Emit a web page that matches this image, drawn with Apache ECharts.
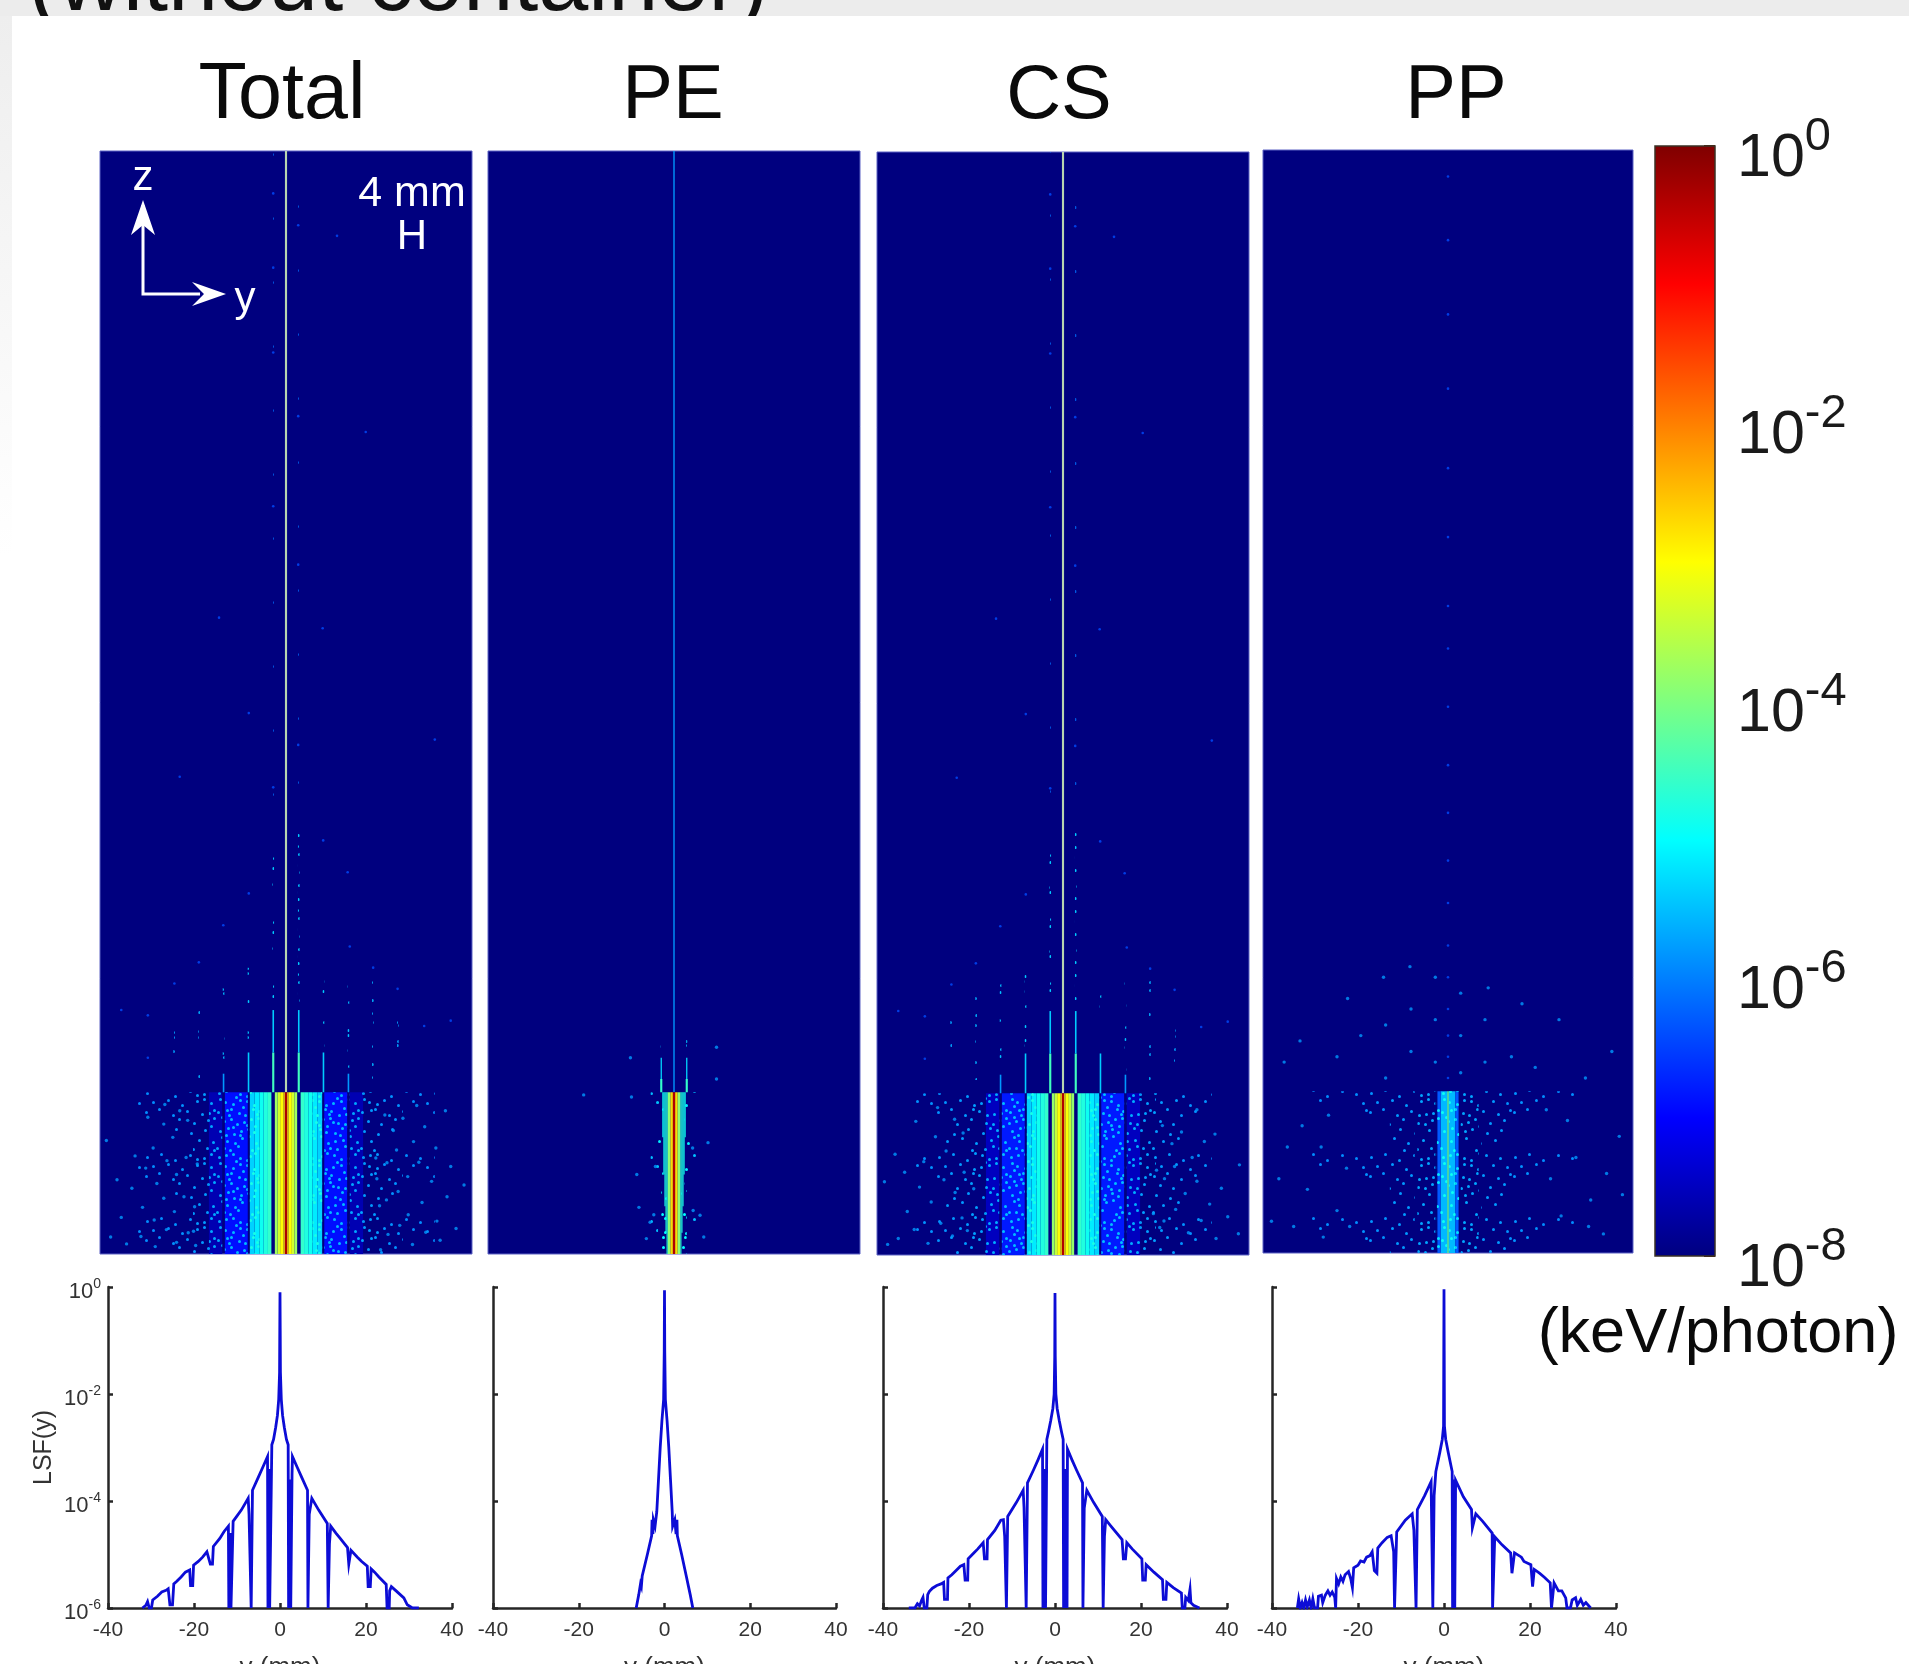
<!DOCTYPE html>
<html><head><meta charset="utf-8">
<style>html,body{margin:0;padding:0;background:#fff}#c{width:1909px;height:1664px}</style>
<script src="https://cdn.jsdelivr.net/npm/echarts@6/dist/echarts.min.js"></script>
</head><body><div id="c"></div>
<script>
const panelTitles = ['Total','PE','CS','PP'];
const jet = ['#00007f','#0000ff','#007fff','#00ffff','#7fff7f','#ffff00','#ff7f00','#ff0000','#7f0000'];
const colorbarExponents = [-8,0];

// Solid bands: [|y| from, |y| to, z from, z to, log10 value] in mm; mirrored about y = 0. null = pale core line.
const totalBands = [
 [0,0.2,30.5,208,null],[0,0.22,0,30.5,-0.35],[0.22,0.5,0,30.5,-2.6],[0.5,1.1,0,30.5,-3.0],[1.1,1.6,0,30.5,-3.35],[1.6,2.1,0,30.5,-3.75],
 [2.75,3.4,0,30.5,-4.6],[3.4,4.2,0,30.5,-4.75],[4.2,5,0,30.5,-4.9],[5,5.9,0,30.5,-5.15],[5.9,6.8,0,30.5,-5.35],
 [7.2,11.5,0,30.5,-6.9],[12,14.5,0,30.5,-7.6],
 [2.2,2.6,30.5,38,-4.5],[2.25,2.55,38,46,-5.4],
 [6.9,7.2,30.5,38,-5.4],[11.6,11.9,30.5,34,-5.8]
];
const peBands = [
 [0,0.13,30.5,208,-5.8],[0,0.22,0,30.5,-0.4],[0.22,0.7,0,30.5,-2.7],[0.7,1.2,0,30.5,-3.9],
 [1.2,1.4,0,30.5,-4.7],[1.4,1.6,4,30.5,-4.75],[1.6,1.8,9,30.5,-4.8],[1.8,2,15,30.5,-4.85],[2,2.2,22,30.5,-4.9],
 [2.2,2.6,30.5,33,-4.6],[2.28,2.52,33,37,-5.3]
];
const csBands = [
 [0,0.2,30.5,208,null],[0,0.22,0,30.5,-0.4],[0.22,0.5,0,30.5,-2.7],[0.5,1.1,0,30.5,-3.05],[1.1,1.6,0,30.5,-3.45],[1.6,2.1,0,30.5,-3.85],
 [2.75,3.4,0,30.5,-4.6],[3.4,4.2,0,30.5,-4.75],[4.2,5,0,30.5,-4.9],[5,5.9,0,30.5,-5.15],[5.9,6.8,0,30.5,-5.35],
 [7.2,11.5,0,30.5,-6.8],[12,14.5,0,30.5,-7.5],
 [2.2,2.6,30.5,38,-4.5],[2.25,2.55,38,46,-5.4],
 [6.9,7.2,30.5,38,-5.4],[11.6,11.9,30.5,34,-5.8]
];
const ppBands = [
 [0,0.16,0,30.5,-4.2],[0.16,1.4,0,30.5,-5.55],[1.4,2,0,30.5,-6.3]
];

// Speckled zones: [|y| from, |y| to, z from, z to, log10 value of the grains, grains per tile]
const totalGrain = [
 [5,6.8,0,30.5,-4.8,90],[7.2,11.5,0,30.5,-5.55,90],[12,14.5,0,30.5,-5.7,72],[14.5,17.5,0,30.5,-5.8,48],[17.5,22,0,30.5,-5.85,26],[22,28,0,30.5,-5.9,12],
 [2.25,2.55,46,80,-5.4,70],[6.9,7.2,38,54,-5.4,60],[11.6,11.9,34,52,-5.5,60],[16.2,16.5,33,52,-5.6,60],[20.9,21.2,35,48,-5.7,50],[2.3,2.5,80,208,-6.1,22]
];
const peGrain = [
 [1.4,2.4,0,12,-5,60],[2,3,10,30.5,-5.1,30],[3,4.4,0,30.5,-5.5,10],[2.3,2.5,37,42,-5.4,60]
];
const csGrain = [
 [5,6.8,0,30.5,-4.8,90],[7.2,11.5,0,30.5,-5.5,90],[12,14.5,0,30.5,-5.65,76],[14.5,17.5,0,30.5,-5.75,54],[17.5,22,0,30.5,-5.8,30],[22,28,0,30.5,-5.85,14],
 [2.25,2.55,46,80,-5.4,70],[6.9,7.2,38,54,-5.4,60],[11.6,11.9,34,52,-5.5,60],[16.2,16.5,33,52,-5.6,60],[20.9,21.2,35,48,-5.7,50],[2.3,2.5,80,208,-6.1,22]
];
const ppGrain = [
 [0.16,1.4,0,30.5,-4.9,60],[1.4,2.1,0,30.5,-5.2,60],[2.4,5.8,0,30.5,-5.7,60],[6.3,11,0,30.5,-5.8,34],[11,17,0,30.5,-5.85,16],[17,26,0,30.5,-5.9,7]
];
// One tile of grain positions (x, y in tile cells) read from the speckled zones.
const grainTile = [[3,5],[17,2],[31,8],[46,3],[60,6],[9,14],[24,12],[38,17],[53,13],[67,15],[2,24],[15,21],[29,27],[43,23],[58,26],[70,22],[8,33],[21,36],[35,31],[50,35],[64,32],[4,43],[18,46],[32,41],[47,45],[61,42],[11,53],[26,50],[40,55],[55,52],[69,54],[1,60],[14,62],[36,62],[49,61],[63,60],
[10,3],[24,6],[39,1],[53,7],[67,2],[4,11],[17,16],[31,13],[45,15],[60,11],[11,22],[23,25],[37,21],[51,27],[65,25],[6,29],[15,31],[28,34],[42,30],[57,36],[70,30],[12,40],[25,43],[39,38],[54,40],[67,38],[6,49],[19,55],[33,48],[47,53],[62,48],[8,60],[22,58],[42,60],[57,58],[70,62],
[6,18],[20,9],[34,4],[49,10],[63,19],[13,27],[27,19],[41,26],[56,20],[1,35],[17,39],[31,37],[45,34],[60,38],[10,47],[24,47],[38,44],[52,47],[66,45],[3,55],[16,58],[30,55],[44,50],[59,55]];

// Isolated grains as [y, z] in mm.
const totalSpeckle = [
[-16.7,17],[-17.2,8.9],[-17.4,4.3],[-17,1.6],[16.9,18.1],[17.1,14.2],[17.6,9.1],[17.8,.8],
[-18.5,25.2],[-20,27],[-21.3,22],[-23,24.5],[-25,20],[-18.8,18.2],[-20.6,15],[-22.4,17.6],[-24.3,13.3],[-26.4,16.2],[-19.2,10.8],[-21,8],[-23,10.5],[-24.8,6.4],[-27,8.8],[-29,12.4],[-31,6.9],[-18.4,4],[-20.6,2.2],[-22.5,4.6],[-24.6,1.4],[-27.3,3.3],[-30,1.9],[-33,3.2],[-33.8,21.4],[-28.4,18.5],[-26,25.8],[-31.8,14],[-22.8,28.2],
[18.6,26.2],[20.2,23.3],[22,25.6],[24,21.2],[26.1,24],[19,17.2],[20.8,19.6],[22.9,14.6],[25,17.3],[27.4,13.7],[18.9,10.2],[21.1,11.8],[23,7.4],[25.6,9.7],[28.4,6.2],[30.3,10.8],[19.2,3.7],[21.4,5.4],[23.8,1.8],[26.3,4.1],[29,2.6],[32,4.8],[33.5,13],[28.2,20],[31,16.5],[24.6,28],[30,27]
];
const peSpeckle = [
[-3.5,16.5],[-3.8,7.4],[-4.5,6],[-5.2,2.9],[3.5,20],[3.6,8.2],[4.9,7.3],[5.6,3.2],
[-6.6,8.8],[-8,29.6],[8,33],[8,39],[-8.2,37],[-17,30],[6.4,21],[-7,15]
];
const csSpeckle = [
[-16.8,12.5],[-18,4.6],[17.6,16],[17,7.8],[18.2,5.2],
[-18.8,23],[-20.4,25.6],[-22,19.6],[-24,22.3],[-26.2,17.6],[-18.6,15.6],[-20.3,11.8],[-22.4,14.2],[-24.8,10],[-27,12.8],[-29.3,8.2],[-19,7],[-20.8,3.6],[-23,6],[-25.4,2.2],[-28,4.8],[-31,3.1],[-33,2],[-33.6,13.8],[-31.6,19],[-27.7,25.2],[-29.8,15.6],[-23.6,27.8],
[18.7,24.4],[20.5,21],[22.3,23.2],[24.3,18.4],[26.6,21.4],[19.1,14.4],[21,16.7],[23,11.6],[25.2,13.9],[27.6,9.6],[19,6.4],[21.2,8.6],[23.6,4.2],[26,6.5],[28.8,3.1],[31,7.2],[33,4],[33.2,17],[29.8,12.6],[28.6,22.8],[25.2,27.4]
];
const ppSpeckle = [
[-19.2,16],[-21,8],[-24,20],[-26.6,12],[-29.2,5],[-32,14],[-18.6,5],[-22.6,26],[-27.6,24],[-30.4,20],[-23.6,3],[-33.4,6],
[19.4,14],[21.4,7],[24.2,18],[27,10],[29.4,3.6],[32.4,22],[33,11],[18.6,27],[22.6,25],[26.6,5],[30,15],
[-2.4,36],[-2.4,44],[-2.4,52],[2.4,34],[2.4,41],[2.4,49],[-7,38],[-7,46],[7,36],[7,44],[-11.8,33],[-11.8,43],[12,37],[16.5,35],[-16.5,41],[-21,37],[21,44],[-28,40],[26,33],[-12.2,52],[-7.2,54],[7.6,50],[14,47],[-19,48],[-31,36],[31,38]
];
const sparseDots = [[-2.4,200],[-2.4,186],[2.3,194],[-2.4,170],[2.3,158],[-2.4,141],[2.3,130],[6.9,118],[-7,102],[2.3,96],[-2.4,88],[7,78],[-7,68],[-11.8,62],[12,58],[11.6,72],[-16.4,55],[16.4,54],[-21,51],[21,50],[-26,45],[26,43],[-26,37],[31,44],[-31,46],[9.6,192],[15,155],[-12.6,120],[28,97],[-20,90]];
const ppColumnDots = [[0,33],[0,37],[0,41],[0,46],[0,52],[0,58],[0,66],[0,74],[0,83],[0,92],[0,103],[0,114],[0,122],[0,135],[0,148],[0,163],[0,177],[0,191],[0,203]];

// LSF curves: [y (mm), exponent of LSF].
const lsfTotal = [[-32,-6],[-31.2,-5.95],[-30.8,-5.88],[-30.4,-6],[-29.9,-6],[-29.6,-5.85],[-29.2,-5.83],[-28.5,-5.78],[-27.5,-5.7],[-26.5,-5.67],[-26,-5.64],[-25.6,-5.94],[-25,-5.94],[-24.7,-5.55],[-24,-5.5],[-23,-5.42],[-22,-5.33],[-21,-5.29],[-20.8,-5.58],[-20.3,-5.58],[-20.1,-5.2],[-19,-5.13],[-18,-5.05],[-17,-4.95],[-16.6,-4.92],[-16.2,-5.18],[-15.7,-5.18],[-15.5,-4.85],[-14,-4.7],[-13,-4.57],[-12,-4.47],[-11.9,-6],[-11.6,-4.6],[-11.4,-6],[-11,-6],[-10.9,-4.38],[-9,-4.17],[-7.4,-3.95],[-7.2,-4.25],[-6.8,-4.25],[-6.7,-6],[-6.5,-6],[-6.4,-3.8],[-5,-3.55],[-4,-3.37],[-2.9,-3.17],[-2.8,-6],[-2.6,-3.4],[-2.4,-6],[-2,-6],[-1.9,-2.95],[-1.5,-2.85],[-1,-2.62],[-0.6,-2.4],[-0.3,-2.1],[-0.1,-1.6],[-0.05,-0.8],[0,-0.1],[0.05,-0.8],[0.1,-1.6],[0.3,-2.1],[0.6,-2.4],[1,-2.62],[1.5,-2.85],[1.9,-2.95],[2,-6],[2.3,-3.6],[2.5,-6],[2.8,-3.5],[2.9,-3.17],[4,-3.37],[5,-3.55],[6.4,-3.8],[6.5,-6],[6.7,-6],[6.8,-4.25],[7.1,-4.25],[7.4,-3.95],[9,-4.17],[11,-4.42],[11.2,-6],[11.4,-6],[11.5,-4.8],[11.8,-4.47],[13,-4.6],[14,-4.7],[15.7,-4.87],[16,-5.18],[16.3,-5.18],[16.5,-4.92],[18,-5.05],[19,-5.13],[20.3,-5.22],[20.5,-5.6],[21,-5.6],[21.2,-5.27],[22,-5.33],[23,-5.42],[24.7,-5.56],[24.9,-6],[25.4,-6],[25.5,-5.68],[25.9,-5.6],[27,-5.68],[28.8,-5.81],[29.6,-5.94],[30.8,-6],[32.3,-6]];
const lsfPE = [[-6.6,-6],[-6,-5.75],[-5.6,-5.55],[-5.4,-5.6],[-5.2,-5.4],[-4,-5.0],[-3,-4.65],[-2.9,-4.35],[-2.7,-4.62],[-2.6,-4.35],[-2.4,-4.35],[-2.2,-4.47],[-1.9,-4.47],[-1.8,-4.2],[-1.4,-3.6],[-1,-3.0],[-0.6,-2.5],[-0.2,-2.1],[-0.06,-1.2],[0,-0.06],[0.06,-1.2],[0.2,-2.1],[0.6,-2.5],[1,-3.0],[1.4,-3.6],[1.8,-4.2],[1.9,-4.47],[2.2,-4.47],[2.4,-4.35],[2.6,-4.35],[2.7,-4.62],[2.9,-4.35],[3,-4.65],[4,-5.0],[5.2,-5.45],[5.6,-5.6],[6,-5.75],[6.6,-6]];
const lsfCS = [[-34,-6],[-32.6,-6],[-32,-5.92],[-31.5,-5.96],[-31,-5.85],[-30.7,-5.8],[-30.4,-6],[-29.8,-6],[-29.6,-5.75],[-29.2,-5.69],[-28.5,-5.63],[-27.5,-5.58],[-26.5,-5.55],[-25.9,-5.52],[-25.7,-5.84],[-25,-5.84],[-24.9,-5.44],[-24,-5.38],[-23,-5.3],[-22,-5.22],[-21.2,-5.19],[-20.9,-5.48],[-20.3,-5.48],[-20.2,-5.08],[-19,-4.98],[-18,-4.9],[-16.7,-4.78],[-16.4,-5.08],[-15.8,-5.08],[-15.7,-4.72],[-14,-4.55],[-12.6,-4.36],[-12,-4.35],[-11.7,-4.66],[-11.4,-4.66],[-11.3,-6],[-11.1,-6],[-11,-4.29],[-9,-4.03],[-7.4,-3.8],[-7.2,-4.13],[-6.8,-4.13],[-6.7,-6],[-6.5,-6],[-6.4,-3.66],[-5,-3.42],[-4,-3.24],[-2.9,-3.03],[-2.8,-6],[-2.6,-3.4],[-2.5,-6],[-2.3,-3.4],[-2.2,-6],[-2,-6],[-1.9,-2.85],[-1.5,-2.7],[-1,-2.5],[-0.5,-2.27],[-0.2,-2.0],[-0.06,-1.3],[0,-0.11],[0.06,-1.3],[0.2,-2.0],[0.5,-2.27],[1,-2.5],[1.5,-2.7],[1.9,-2.85],[2,-6],[2.2,-3.4],[2.4,-6],[2.6,-3.4],[2.8,-6],[2.9,-3.03],[4,-3.24],[5,-3.42],[6.4,-3.66],[6.5,-6],[6.7,-6],[6.8,-4.13],[7.1,-4.13],[7.4,-3.8],[9,-4.03],[11,-4.29],[11.2,-6],[11.4,-6],[11.5,-4.66],[11.8,-4.35],[13,-4.47],[15.6,-4.72],[15.9,-5.08],[16.4,-5.08],[16.7,-4.78],[18,-4.9],[20.2,-5.08],[20.4,-5.48],[21,-5.48],[21.2,-5.19],[23,-5.33],[25,-5.47],[25.2,-5.84],[25.8,-5.84],[26,-5.52],[27.5,-5.62],[29.4,-5.72],[29.6,-6],[30.2,-6],[30.4,-5.8],[31,-5.86],[31.4,-5.65],[31.6,-5.9],[32.2,-5.95],[33.6,-6]];
const lsfPP = [[-34.1,-6],[-33.8,-5.83],[-33.4,-6],[-33,-5.9],[-32.6,-6],[-32.2,-5.85],[-31.8,-5.98],[-31.3,-5.85],[-30.9,-6],[-30.5,-5.83],[-30.1,-6],[-29.4,-6],[-29.2,-5.78],[-28.5,-5.76],[-28.2,-5.9],[-27.6,-5.76],[-27,-5.68],[-26.5,-5.76],[-26,-5.7],[-25.4,-5.8],[-25.2,-6],[-25,-5.45],[-24.5,-5.55],[-24,-5.42],[-23.5,-5.5],[-23,-5.38],[-22.2,-5.32],[-21.7,-5.45],[-21.3,-5.62],[-21,-5.25],[-20,-5.2],[-19.4,-5.12],[-18.6,-5.14],[-18,-5.05],[-17.2,-5.02],[-16.7,-4.95],[-16.2,-5.3],[-15.6,-5.35],[-15.4,-4.88],[-14.4,-4.78],[-13.2,-4.68],[-12.3,-4.65],[-12,-4.62],[-11.7,-4.95],[-11.5,-6],[-11.1,-6],[-11,-4.58],[-9,-4.36],[-7.4,-4.24],[-7,-4.55],[-6.6,-4.55],[-6.5,-6],[-6.3,-6],[-6.2,-4.16],[-4.5,-3.9],[-3,-3.64],[-2.7,-3.61],[-2.6,-6],[-2.4,-6],[-2.3,-3.9],[-1.9,-3.9],[-1.9,-3.45],[-1,-3.1],[-0.4,-2.85],[-0.1,-2.6],[-0.05,-1.2],[0,-0.04],[0.05,-1.2],[0.1,-2.6],[0.4,-2.85],[1,-3.1],[1.9,-3.45],[2,-6],[2.3,-3.6],[2.5,-6],[2.7,-3.61],[4.5,-3.92],[6.4,-4.16],[6.6,-4.5],[7,-4.5],[7.4,-4.24],[9,-4.38],[11.2,-4.6],[11.3,-6],[11.6,-6],[11.7,-4.94],[11.8,-4.67],[13.5,-4.82],[15.5,-4.97],[15.8,-5.35],[16.2,-5.35],[16.4,-4.97],[18,-5.05],[18.6,-5.13],[20.2,-5.19],[20.6,-5.6],[21,-5.28],[22.2,-5.35],[23.4,-5.43],[24.7,-5.53],[25,-6],[25.4,-6],[25.6,-5.53],[26.6,-5.68],[27.4,-5.68],[28.3,-5.81],[28.6,-6],[29.4,-6],[29.8,-5.85],[30.6,-5.81],[31,-5.95],[31.8,-5.84],[32.4,-5.95],[33,-5.9],[34.1,-6]];

// ------------------ layout ------------------
const font = 'Liberation Sans';
const heatBoxes = [[100,151,372,1103],[488,151,372,1103],[877,152,372,1103],[1263,150,370,1103]];
const lsfBoxes = [[108,1287,344,321],[493,1287,343,321],[883,1287,344,321],[1272,1287,344,321]];
const titleCentres = [282,673,1059,1456];
const titleSizes = [79,76,76,76];
const coreColor = '#b8d4b0';
const allBands = [totalBands,peBands,csBands,ppBands];
const allGrain = [totalGrain,peGrain,csGrain,ppGrain];
const allSpeckle = [totalSpeckle,peSpeckle,csSpeckle,ppSpeckle];
const allSparse = [sparseDots,[],sparseDots,ppColumnDots];
const allLsf = [lsfTotal,lsfPE,lsfCS,lsfPP];
const speckleLevel = -5.8, sparseLevel = -6.4;

function jetAt(e){ return echarts.color.lerp(Math.max(0,Math.min(1,(e+8)/8)), jet); }
const tileCache={};
function grainPattern(e,n){
  const key=e+'/'+n;
  if(!tileCache[key]){
    const cv=document.createElement('canvas');cv.width=72;cv.height=64;
    const c=cv.getContext('2d');c.fillStyle=jetAt(e);
    grainTile.slice(0,n).forEach(d=>{c.beginPath();c.arc(d[0]+.5,d[1]+.5,1.5,0,Math.PI*2);c.fill();});
    tileCache[key]={image:cv,repeat:'repeat'};
  }
  return tileCache[key];
}
const mirror=rows=>{const out=[];rows.forEach(r=>{
  if(r[0]===0){out.push([-r[1],...r.slice(1)]);}
  else{out.push(r);out.push([-r[1],-r[0],...r.slice(2)]);}
});return out;};

const grid=[],xAxis=[],yAxis=[],series=[];
function addBox(b,extra){grid.push(Object.assign({left:b[0],top:b[1],width:b[2],height:b[3],outerBoundsMode:'none'},extra));return grid.length-1;}

panelTitles.forEach((t,p)=>{
  const g=addBox(heatBoxes[p],{show:true,backgroundColor:'#00007f',borderColor:'#5c62c4',borderWidth:1});
  xAxis.push({gridIndex:g,type:'value',min:-35,max:35,show:false});
  yAxis.push({gridIndex:g,type:'value',min:0,max:208,show:false});
  const bands=mirror(allBands[p]), grains=mirror(allGrain[p]);
  const rectAt=(api)=>{
    const a=api.coord([api.value(0),api.value(3)]),c=api.coord([api.value(1),api.value(2)]);
    return {x:a[0],y:a[1],width:Math.max(1,c[0]-a[0]),height:c[1]-a[1]};
  };
  series.push({name:t+' map',type:'custom',xAxisIndex:g,yAxisIndex:g,silent:true,z:3,clip:true,animation:false,
    data:bands.map(r=>r.slice(0,4)),encode:{x:[0,1],y:[2,3]},
    renderItem(params,api){
      const v=bands[params.dataIndex][4];
      return {type:'rect',shape:rectAt(api),style:{fill:v===null?coreColor:jetAt(v)}};
    }});
  series.push({name:t+' grain',type:'custom',xAxisIndex:g,yAxisIndex:g,silent:true,z:4,clip:true,animation:false,
    data:grains.map(r=>r.slice(0,4)),encode:{x:[0,1],y:[2,3]},
    renderItem(params,api){
      const r=grains[params.dataIndex];
      return {type:'rect',shape:rectAt(api),style:{fill:grainPattern(r[4],r[5])}};
    }});
  series.push({name:t+' speckle',type:'scatter',xAxisIndex:g,yAxisIndex:g,silent:true,z:5,animation:false,
    symbol:'circle',symbolSize:3.4,data:allSpeckle[p],itemStyle:{color:jetAt(speckleLevel)}});
  series.push({name:t+' sparse',type:'scatter',xAxisIndex:g,yAxisIndex:g,silent:true,z:5,animation:false,
    symbol:'circle',symbolSize:2.6,data:allSparse[p],itemStyle:{color:jetAt(sparseLevel)}});
});

// Colour bar
{
  const g=addBox([1655,146,60,1110],{});
  xAxis.push({gridIndex:g,type:'value',min:0,max:1,show:false});
  yAxis.push({gridIndex:g,type:'value',position:'right',min:colorbarExponents[0],max:colorbarExponents[1],interval:2,
    axisLine:{show:false,onZero:false},splitLine:{show:false},
    axisTick:{show:true,inside:true,length:11,lineStyle:{color:'#5a1c00',width:2}},
    axisLabel:{margin:22,padding:[11,0,0,0],formatter:v=>'{b|10}{s|'+v+'}',
      rich:{b:{fontFamily:font,fontSize:61,lineHeight:76,color:'#1a1a1a',verticalAlign:'bottom'},
            s:{fontFamily:font,fontSize:47,lineHeight:76,color:'#1a1a1a',verticalAlign:'top'}}}});
  series.push({name:'colour scale',type:'custom',xAxisIndex:g,yAxisIndex:g,silent:true,z:3,animation:false,
    data:[colorbarExponents],encode:{y:[0,1]},
    renderItem(params,api){
      const lo=api.coord([0,api.value(0)]),hi=api.coord([1,api.value(1)]);
      return {type:'rect',shape:{x:lo[0],y:hi[1],width:hi[0]-lo[0],height:lo[1]-hi[1]},
        style:{stroke:'#3a3025',lineWidth:1.5,
          fill:new echarts.graphic.LinearGradient(0,1,0,0,jet.map((c,i)=>({offset:i/(jet.length-1),color:c})))}};
    }});
}

// LSF plots
panelTitles.forEach((t,p)=>{
  const g=addBox(lsfBoxes[p],{});
  const tick={show:true,inside:true,length:5,lineStyle:{color:'#262626',width:2.5}};
  const axisLine={show:true,onZero:false,lineStyle:{color:'#262626',width:2.5}};
  xAxis.push({gridIndex:g,type:'value',min:-40,max:40,interval:20,axisLine,axisTick:tick,splitLine:{show:false},
    axisLabel:{margin:12,fontFamily:font,fontSize:21,color:'#333',formatter:v=>String(v),showMinLabel:true,showMaxLabel:true},
    name:'y (mm)',nameLocation:'middle',nameGap:47,nameTextStyle:{fontFamily:font,fontSize:26,color:'#333'}});
  yAxis.push({gridIndex:g,type:'log',logBase:10,min:1e-6,max:1,interval:2,axisLine,axisTick:tick,splitLine:{show:false},
    minorTick:{show:false},
    axisLabel:{show:p===0,margin:7,padding:[6,0,0,0],formatter:v=>'{b|10}{s|'+Math.round(Math.log10(v))+'}',
      rich:{b:{fontFamily:font,fontSize:22,lineHeight:25,color:'#333',verticalAlign:'bottom'},
            s:{fontFamily:font,fontSize:14,lineHeight:14,color:'#333',verticalAlign:'top'}}},
    name:p===0?'LSF(y)':'',nameLocation:'middle',nameGap:51,nameRotate:90,nameTextStyle:{fontFamily:font,fontSize:25,color:'#333'}});
  series.push({name:t+' LSF',type:'line',xAxisIndex:g,yAxisIndex:g,showSymbol:false,silent:true,animation:false,z:3,
    lineStyle:{color:'#0c0cd6',width:2.8,join:'miter'},itemStyle:{color:'#0c0cd6'},
    data:allLsf[p].map(d=>[d[0],Math.pow(10,d[1])])});
});

// Page furniture and annotations (y given as text baseline)
const txt=(text,x,y,size,color,align,z)=>({type:'text',x,y:y-0.78*size,z:z||200,silent:true,
  style:{text,fontFamily:font,fontSize:size,fill:color,align:align||'center',verticalAlign:'top'}});
const arrow=[
 {type:'polyline',z:200,silent:true,shape:{points:[[143,205],[143,294],[200,294]]},style:{stroke:'#fff',lineWidth:3,fill:'none'}},
 {type:'polygon',z:201,silent:true,shape:{points:[[143,200],[155,235],[143,225],[131,235]]},style:{fill:'#fff'}},
 {type:'polygon',z:201,silent:true,shape:{points:[[226,294],[192,282],[204,294],[192,306]]},style:{fill:'#fff'}}
];
const graphic=[
 {type:'rect',z:-30,silent:true,shape:{x:0,y:0,width:1909,height:16},style:{fill:'#ececec'}},
 {type:'rect',z:-30,silent:true,shape:{x:0,y:16,width:12,height:540},
  style:{fill:new echarts.graphic.LinearGradient(0,0,0,1,[{offset:0,color:'#eeeeee'},{offset:1,color:'#ffffff'}])}},
 Object.assign(txt('(without container)',28,10,90,'#111','left'),{z:-20}),
 {type:'rect',z:-10,silent:true,shape:{x:12,y:16,width:1897,height:1648},style:{fill:'#ffffff'}},
 ...panelTitles.map((t,i)=>txt(t,titleCentres[i],118,titleSizes[i],'#0a0a0a')),
 txt('z',143,190,42,'#fff'),txt('y',245,311,42,'#fff'),
 txt('4 mm',412,206,43,'#fff'),txt('H',412,249,42,'#fff'),
 ...arrow,
 txt('(keV/photon)',1718,1352,63,'#0a0a0a')
];

const chart=echarts.init(document.getElementById('c'),null,{renderer:'canvas'});
chart.setOption({backgroundColor:'#fff',animation:false,grid,xAxis,yAxis,series,graphic});
</script></body></html>
